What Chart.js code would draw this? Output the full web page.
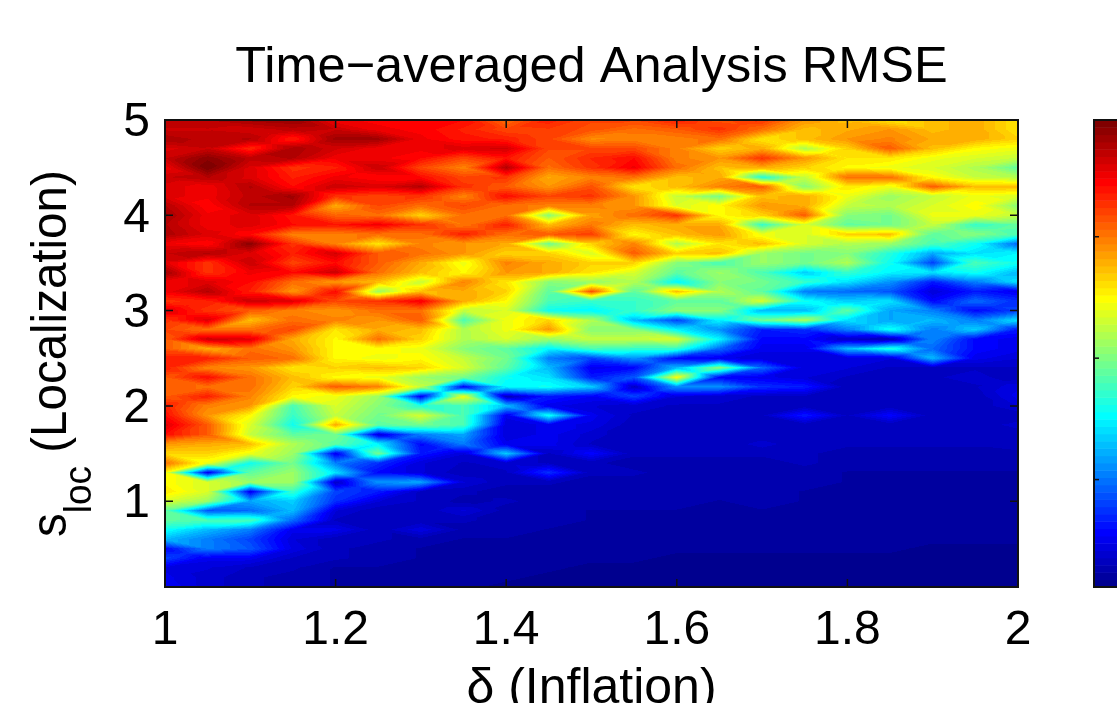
<!DOCTYPE html>
<html>
<head>
<meta charset="utf-8">
<title>Time-averaged Analysis RMSE</title>
<script src="https://cdn.jsdelivr.net/npm/chart.js@4"></script>
<style>
    html, body { margin: 0; padding: 0; background: #fff; overflow: hidden; }
    #wrap { width: 1117px; height: 703px; }
</style>
</head>
<body>
<div id="wrap"><canvas id="rmse-chart"></canvas></div>
<script>
// Grid of the contour plot
const inflation = [1, 1.05, 1.1, 1.15, 1.2, 1.25, 1.3, 1.35, 1.4, 1.45, 1.5, 1.55, 1.6, 1.65, 1.7, 1.75, 1.8, 1.85, 1.9, 1.95, 2];
const localization = [5, 4.9, 4.8, 4.7, 4.6, 4.5, 4.4, 4.3, 4.2, 4.1, 4, 3.9, 3.8, 3.7, 3.6, 3.5, 3.4, 3.3, 3.2, 3.1, 3, 2.9, 2.8, 2.7, 2.6,
    2.5, 2.4, 2.3, 2.2, 2.1, 2, 1.9, 1.8, 1.7, 1.6, 1.5, 1.4, 1.3, 1.2, 1.1, 1, 0.9, 0.8, 0.7, 0.6, 0.5, 0.4, 0.3, 0.2, 0.1];

// Values, 0-100 along the colorbar. One row per localization value
const rmse = [
    [93, 94, 96, 97, 88, 87, 86, 86, 76, 84, 80, 80, 84, 79, 82, 72, 68, 64, 68, 70, 64],
    [92, 92, 91, 93, 92, 88, 87, 84, 80, 81, 79, 76, 78, 82, 76, 68, 70, 72, 68, 70, 64],
    [95, 93, 94, 84, 96, 96, 88, 85, 84, 80, 73, 74, 74, 76, 64, 68, 72, 74, 70, 70, 66],
    [90, 92, 83, 95, 91, 88, 88, 90, 91, 80, 80, 80, 74, 66, 70, 54, 66, 78, 68, 62, 60],
    [92, 98, 93, 94, 88, 88, 86, 80, 85, 78, 83, 86, 74, 72, 82, 72, 64, 64, 60, 58, 56],
    [88, 100, 90, 82, 84, 92, 80, 74, 94, 76, 82, 88, 76, 68, 70, 66, 62, 60, 58, 54, 46],
    [92, 94, 90, 84, 88, 86, 86, 80, 82, 70, 74, 76, 68, 70, 40, 56, 76, 76, 62, 56, 54],
    [90, 88, 94, 86, 92, 90, 94, 82, 78, 72, 79, 64, 68, 74, 78, 50, 64, 60, 78, 68, 68],
    [90, 88, 93, 96, 82, 80, 82, 74, 86, 80, 82, 72, 56, 48, 68, 70, 60, 52, 56, 60, 58],
    [94, 86, 94, 94, 70, 80, 76, 80, 76, 74, 74, 72, 58, 62, 72, 70, 56, 54, 58, 62, 50],
    [96, 88, 90, 85, 77, 76, 66, 76, 76, 50, 71, 76, 82, 62, 66, 78, 50, 48, 60, 60, 56],
    [94, 88, 90, 86, 85, 88, 82, 75, 84, 68, 75, 68, 70, 70, 42, 58, 46, 48, 56, 42, 46],
    [95, 90, 86, 74, 74, 76, 76, 84, 76, 78, 81, 62, 68, 72, 60, 58, 66, 68, 46, 50, 44],
    [88, 86, 98, 82, 74, 64, 74, 72, 70, 48, 66, 74, 54, 64, 68, 58, 54, 52, 44, 38, 22],
    [92, 94, 90, 84, 91, 78, 76, 72, 66, 66, 58, 78, 66, 68, 52, 48, 50, 40, 28, 34, 36],
    [90, 82, 92, 80, 86, 78, 70, 60, 74, 70, 66, 66, 50, 44, 52, 48, 54, 38, 18, 44, 38],
    [96, 82, 88, 86, 92, 76, 68, 62, 72, 70, 64, 58, 46, 52, 44, 32, 42, 36, 34, 38, 30],
    [88, 90, 86, 76, 72, 68, 56, 74, 64, 50, 52, 54, 36, 50, 48, 42, 34, 26, 14, 24, 34],
    [88, 94, 84, 72, 86, 52, 68, 70, 66, 46, 79, 46, 68, 54, 46, 24, 22, 20, 8, 14, 10],
    [82, 84, 92, 90, 80, 82, 88, 70, 62, 44, 42, 42, 46, 46, 58, 38, 32, 34, 12, 22, 16],
    [90, 82, 78, 74, 72, 76, 76, 56, 58, 38, 36, 42, 50, 50, 30, 30, 46, 28, 24, 12, 18],
    [82, 90, 68, 76, 74, 72, 78, 44, 60, 66, 54, 30, 18, 36, 48, 54, 34, 28, 30, 24, 34],
    [80, 76, 76, 80, 64, 70, 68, 54, 60, 72, 50, 50, 36, 26, 14, 16, 24, 38, 24, 32, 14],
    [78, 92, 90, 70, 62, 76, 66, 54, 58, 52, 56, 56, 58, 36, 12, 12, 6, 4, 25, 12, 10],
    [78, 70, 76, 72, 62, 62, 60, 50, 46, 36, 44, 42, 42, 22, 10, 10, 30, 40, 22, 12, 10],
    [84, 84, 78, 76, 62, 60, 62, 56, 48, 24, 18, 26, 12, 10, 8, 8, 8, 8, 30, 10, 8],
    [84, 74, 72, 64, 66, 68, 66, 58, 46, 30, 10, 12, 30, 50, 22, 8, 8, 6, 6, 6, 6],
    [78, 86, 76, 68, 62, 60, 52, 48, 38, 34, 14, 20, 62, 12, 10, 8, 6, 6, 6, 7, 5],
    [78, 76, 76, 66, 78, 74, 56, 12, 36, 38, 32, 6, 26, 26, 16, 14, 5, 6, 6, 6, 9],
    [78, 84, 74, 62, 60, 52, 10, 60, 5, 14, 11, 18, 8, 7, 6, 6, 5, 5, 6, 5, 10],
    [84, 74, 72, 44, 58, 50, 40, 44, 30, 10, 8, 7, 6, 6, 6, 5, 5, 5, 5, 5, 8],
    [86, 72, 62, 42, 56, 48, 58, 44, 10, 38, 10, 6, 6, 6, 6, 14, 6, 12, 5, 5, 5],
    [90, 78, 58, 38, 70, 46, 48, 44, 8, 10, 9, 5, 5, 5, 5, 5, 5, 5, 5, 5, 7],
    [86, 78, 56, 46, 48, 8, 24, 28, 8, 10, 7, 5, 5, 5, 5, 5, 5, 5, 5, 5, 5],
    [72, 70, 68, 54, 46, 36, 12, 24, 10, 10, 6, 5, 6, 5, 7, 5, 5, 5, 5, 5, 6],
    [66, 66, 60, 52, 10, 48, 14, 8, 32, 6, 12, 5, 5, 5, 5, 5, 4, 4, 4, 4, 4],
    [76, 60, 38, 48, 24, 16, 8, 6, 7, 6, 5, 4, 4, 4, 4, 5, 4, 4, 4, 4, 4],
    [62, 10, 46, 52, 34, 12, 8, 5, 6, 16, 5, 5, 4, 4, 4, 4, 3, 3, 3, 3, 3],
    [62, 58, 52, 52, 6, 26, 28, 8, 5, 5, 4, 4, 4, 4, 4, 4, 3, 3, 3, 3, 3],
    [64, 58, 10, 42, 18, 14, 6, 5, 4, 4, 4, 4, 4, 4, 4, 3, 3, 3, 3, 3, 3],
    [58, 52, 28, 32, 16, 8, 6, 4, 5, 4, 4, 4, 4, 3, 4, 3, 3, 3, 3, 3, 3],
    [46, 20, 22, 30, 8, 5, 5, 8, 4, 4, 3, 3, 3, 3, 3, 3, 3, 3, 3, 3, 3],
    [46, 44, 44, 22, 6, 5, 5, 5, 4, 4, 3, 3, 3, 3, 3, 3, 3, 2, 2, 2, 2],
    [38, 30, 24, 10, 10, 5, 9, 4, 4, 3, 3, 3, 3, 3, 2, 2, 2, 2, 2, 2, 2],
    [30, 24, 18, 8, 5, 5, 4, 3, 3, 3, 2, 2, 2, 2, 2, 2, 2, 2, 2, 2, 2],
    [12, 24, 20, 9, 5, 4, 3, 3, 3, 2, 2, 2, 2, 2, 2, 2, 2, 2, 1, 1, 1],
    [18, 10, 10, 6, 5, 4, 3, 3, 2, 2, 2, 2, 1, 1, 1, 1, 1, 1, 1, 1, 1],
    [9, 8, 6, 5, 3, 3, 3, 2, 2, 2, 1, 1, 1, 1, 1, 1, 1, 1, 1, 1, 1],
    [10, 7, 5, 4, 3, 3, 2, 2, 2, 1, 1, 1, 1, 1, 1, 1, 1, 1, 1, 1, 1],
    [11, 7, 5, 4, 3, 2, 2, 2, 1, 1, 1, 1, 1, 1, 1, 1, 1, 1, 1, 1, 1]
];

const xTicks = [1, 1.2, 1.4, 1.6, 1.8, 2];
const yTicks = [1, 2, 3, 4, 5];
const colorbarTicks = [23, 49, 75];

const titleText = 'Time\u2212averaged Analysis RMSE';
const FONT = '"Liberation Sans", Arial, sans-serif';
const LEVELS = 64;

// MATLAB jet, 64 steps
function jet(v) {
    const i = Math.min(LEVELS - 1, Math.max(0, Math.floor(v / 100 * LEVELS)));
    const t = (i + 1) / LEVELS;
    const ch = c => Math.round(255 * Math.min(1, Math.max(0, 1.5 - Math.abs(4 * t - c))));
    return [ch(3), ch(2), ch(1)];
}

// Value inside one grid cell. Two flat triangles, or four around the mean on a saddle
function cellValue(a, b, d, e, u, t) {
    const saddle = Math.min(a, e) > Math.max(b, d) || Math.max(a, e) < Math.min(b, d);
    if (saddle) {
        const m = (a + b + d + e) / 4;
        if (t <= u && t <= 1 - u) return a + u * (b - a) + t * (2 * m - a - b);
        if (t >= u && t >= 1 - u) return d + u * (e - d) + (1 - t) * (2 * m - d - e);
        if (u <= t) return a + t * (d - a) + u * (2 * m - a - d);
        return b + t * (e - b) + (1 - u) * (2 * m - b - e);
    }
    if (Math.abs(a - e) <= Math.abs(b - d)) {
        return u >= t ? a + u * (b - a) + t * (e - b) : a + t * (d - a) + u * (e - d);
    }
    return u + t <= 1 ? a + u * (b - a) + t * (d - a) : e + (1 - u) * (d - e) + (1 - t) * (b - e);
}

// Filled contours
function drawContours(chart) {
    const xs = chart.scales.x, ys = chart.scales.y;
    const points = chart.data.datasets[0].data;
    const nx = inflation.length;
    const left = Math.round(xs.left), top = Math.round(ys.top);
    const w = Math.round(xs.right) - left, h = Math.round(ys.bottom) - top;
    const buf = document.createElement('canvas');
    buf.width = w; buf.height = h;
    const bctx = buf.getContext('2d');
    const img = bctx.createImageData(w, h);
    for (let r = 0; r < localization.length - 1; r++) {
        for (let c = 0; c < nx - 1; c++) {
            const a = points[r * nx + c], b = points[r * nx + c + 1];
            const d = points[(r + 1) * nx + c], e = points[(r + 1) * nx + c + 1];
            const x0 = xs.getPixelForValue(a.x), x1 = xs.getPixelForValue(b.x);
            const y0 = ys.getPixelForValue(a.y), y1 = ys.getPixelForValue(d.y);
            for (let py = Math.floor(y0); py <= Math.ceil(y1); py++) {
                for (let px = Math.floor(x0); px <= Math.ceil(x1); px++) {
                    const ix = px - left, iy = py - top;
                    if (ix < 0 || iy < 0 || ix >= w || iy >= h) continue;
                    const u = Math.min(1, Math.max(0, (px + 0.5 - x0) / (x1 - x0)));
                    const t = Math.min(1, Math.max(0, (py + 0.5 - y0) / (y1 - y0)));
                    const col = jet(cellValue(a.v, b.v, d.v, e.v, u, t)), k = (iy * w + ix) * 4;
                    img.data[k] = col[0]; img.data[k + 1] = col[1]; img.data[k + 2] = col[2]; img.data[k + 3] = 255;
                }
            }
        }
    }
    bctx.putImageData(img, 0, 0);
    const ctx = chart.ctx;
    ctx.save();
    ctx.filter = 'blur(0.7px)';
    ctx.drawImage(buf, left, top);
    ctx.restore();
}

function drawFrameAndTicks(chart) {
    const ctx = chart.ctx, xs = chart.scales.x, ys = chart.scales.y;
    ctx.save();
    ctx.strokeStyle = '#111';
    ctx.lineWidth = 1.5;
    xTicks.forEach(v => {
        const p = xs.getPixelForValue(v);
        ctx.beginPath();
        ctx.moveTo(p, ys.bottom); ctx.lineTo(p, ys.bottom - 8);
        ctx.moveTo(p, ys.top); ctx.lineTo(p, ys.top + 8);
        ctx.stroke();
    });
    yTicks.forEach(v => {
        const p = ys.getPixelForValue(v);
        ctx.beginPath();
        ctx.moveTo(xs.left, p); ctx.lineTo(xs.left + 8, p);
        ctx.moveTo(xs.right, p); ctx.lineTo(xs.right - 8, p);
        ctx.stroke();
    });
    ctx.lineWidth = 2;
    ctx.strokeRect(xs.left, ys.top, xs.right - xs.left, ys.bottom - ys.top);
    ctx.restore();
}

function drawColorbar(chart) {
    const ctx = chart.ctx, cb = chart.scales.cb;
    const left = 1094, right = 1130;
    for (let i = 0; i < LEVELS; i++) {
        const v0 = i * 100 / LEVELS, v1 = (i + 1) * 100 / LEVELS;
        const y0 = cb.getPixelForValue(v1), y1 = cb.getPixelForValue(v0);
        ctx.fillStyle = 'rgb(' + jet(v0 + 0.1).join(',') + ')';
        ctx.fillRect(left, y0, right - left, y1 - y0 + 0.5);
    }
    ctx.save();
    ctx.strokeStyle = '#111';
    ctx.lineWidth = 1.5;
    colorbarTicks.forEach(v => {
        const p = cb.getPixelForValue(v);
        ctx.beginPath();
        ctx.moveTo(left, p); ctx.lineTo(left + 5, p);
        ctx.stroke();
    });
    ctx.lineWidth = 2;
    ctx.strokeRect(left, cb.top, right - left, cb.bottom - cb.top);
    ctx.restore();
}

// Centred over the plot, not the whole canvas
function drawTitle(chart) {
    const ctx = chart.ctx, area = chart.chartArea;
    ctx.save();
    ctx.fillStyle = '#000';
    ctx.textAlign = 'center';
    ctx.textBaseline = 'alphabetic';
    ctx.font = '50.5px ' + FONT;
    ctx.fillText(titleText, (area.left + area.right) / 2, 82);
    ctx.restore();
}

// y axis title has a subscript, the built in axis title can't do that
function drawYTitle(chart) {
    const ctx = chart.ctx;
    ctx.save();
    ctx.translate(66, 537);
    ctx.rotate(-Math.PI / 2);
    ctx.scale(1, 1.07);
    ctx.fillStyle = '#000';
    ctx.textBaseline = 'alphabetic';
    ctx.textAlign = 'left';
    ctx.font = '47.5px ' + FONT;
    ctx.fillText('s', 0, 0);
    let x = ctx.measureText('s').width;
    ctx.font = '37px ' + FONT;
    ctx.fillText('loc', x, 23);
    x += ctx.measureText('loc').width;
    ctx.font = '47.5px ' + FONT;
    ctx.fillText(' (Localization)', x, 0);
    ctx.restore();
}

const contourPlugin = {
    id: 'contourPlugin',
    beforeDatasetsDraw: drawContours,
    afterDatasetsDraw(chart) {
        drawFrameAndTicks(chart);
        drawColorbar(chart);
        drawTitle(chart);
        drawYTitle(chart);
    }
};

function buildPoints() {
    const pts = [];
    localization.forEach((y, r) => {
        inflation.forEach((x, c) => {
            pts.push({ x: x, y: y, v: rmse[r][c] });
        });
    });
    return pts;
}

new Chart(document.getElementById('rmse-chart'), {
    type: 'scatter',
    plugins: [contourPlugin],
    data: {
        datasets: [{ data: buildPoints(), pointRadius: 0, pointHoverRadius: 0 }]
    },
    options: {
        responsive: true,
        maintainAspectRatio: false,
        animation: false,
        layout: { padding: { left: 0, right: 99, top: 120, bottom: 0 } },
        plugins: {
            legend: { display: false },
            tooltip: { enabled: false }
        },
        scales: {
            x: {
                type: 'linear',
                min: 1,
                max: 2,
                afterBuildTicks(scale) { scale.ticks = xTicks.map(v => ({ value: v })); },
                afterFit(scale) { scale.height = 116; },
                grid: { display: false, drawTicks: false },
                border: { display: false },
                ticks: {
                    color: '#000',
                    autoSkip: false,
                    maxRotation: 0,
                    padding: 15,
                    font: { family: FONT, size: 48 },
                    callback: v => String(v)
                },
                title: {
                    display: true,
                    text: '\u03b4 (Inflation)',
                    color: '#000',
                    font: { family: FONT, size: 50, lineHeight: 1 },
                    padding: { top: 0, bottom: -11 }
                }
            },
            y: {
                type: 'linear',
                min: 0.1,
                max: 5,
                afterBuildTicks(scale) { scale.ticks = yTicks.map(v => ({ value: v })); },
                afterFit(scale) { scale.width = 165; },
                grid: { display: false, drawTicks: false },
                border: { display: false },
                ticks: {
                    color: '#000',
                    autoSkip: false,
                    padding: 15,
                    labelOffset: 3,
                    font: { family: FONT, size: 48 },
                    callback: v => String(v)
                }
            },
            cb: {
                type: 'linear',
                display: false,
                position: 'right',
                min: 0,
                max: 100
            }
        }
    }
});
</script>
</body>
</html>
